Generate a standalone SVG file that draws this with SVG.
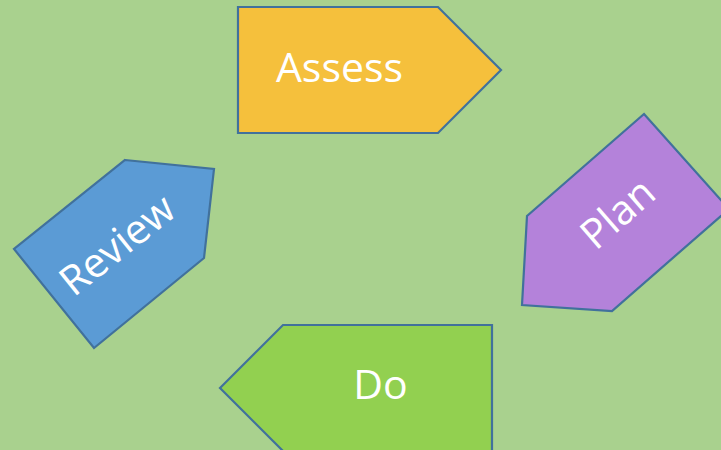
<svg xmlns="http://www.w3.org/2000/svg" width="721" height="450" viewBox="0 0 721 450">
<style>
.shape{stroke:#41719C;stroke-width:2.2;stroke-linejoin:miter}
.lbl{font-family:"Open Sans","Liberation Sans",sans-serif;font-size:41px;fill:#FFFFFF;text-anchor:middle}
</style>
<rect x="0" y="0" width="721" height="450" fill="#A9D18E"/>
<g id="connectors"/>
<g id="assess">
<polygon class="shape" fill="#F5C03C" points="238,7 438,7 501,70 438,133 238,133"/>
<text class="lbl" x="339.5" y="82">Assess</text>
</g>
<g id="plan">
<polygon class="shape" fill="#B482DA" points="644,114 729,209 612,311 522,305 527,216"/>
<text class="lbl" transform="translate(627,224) rotate(-41)" x="0" y="0">Plan</text>
</g>
<g id="do">
<polygon class="shape" fill="#92D050" points="220,388 283,325 492,325 492,451 283,451"/>
<text class="lbl" x="380.5" y="399">Do</text>
</g>
<g id="review">
<polygon class="shape" fill="#5B9BD5" points="125,160 214,169 204,258 94,348 14,249"/>
<text class="lbl" transform="translate(126,256) rotate(-38.7)" x="0" y="0">Review</text>
</g>
</svg>
